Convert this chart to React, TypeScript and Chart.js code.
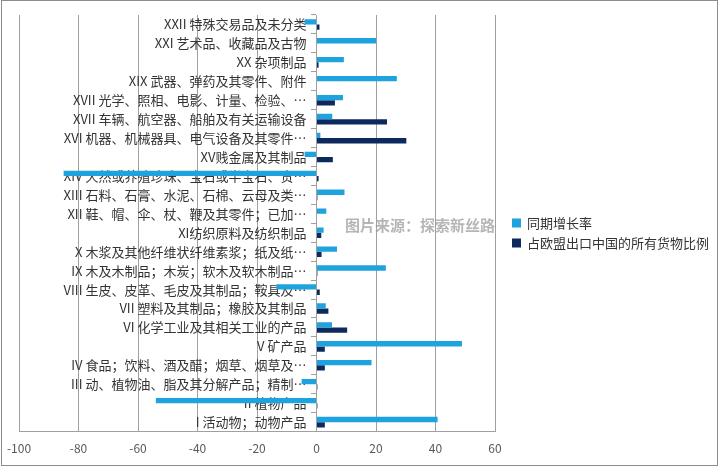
import React, { useEffect, useRef } from "react";
import { Chart, registerables } from "chart.js";

Chart.register(...registerables);

const categories: string[] = [
  "I 活动物；动物产品",
  "II 植物产品",
  "III 动、植物油、脂及其分解产品；精制…",
  "IV 食品；饮料、酒及醋；烟草、烟草及…",
  "V 矿产品",
  "VI 化学工业及其相关工业的产品",
  "VII 塑料及其制品；橡胶及其制品",
  "VIII 生皮、皮革、毛皮及其制品；鞍具及…",
  "IX 木及木制品；木炭；软木及软木制品…",
  "X 木浆及其他纤维状纤维素浆；纸及纸…",
  "XI纺织原料及纺织制品",
  "XII 鞋、帽、伞、杖、鞭及其零件；已加…",
  "XIII 石料、石膏、水泥、石棉、云母及类…",
  "XIV 天然或养殖珍珠、宝石或半宝石、贵…",
  "XV贱金属及其制品",
  "XVI 机器、机械器具、电气设备及其零件…",
  "XVII 车辆、航空器、船舶及有关运输设备",
  "XVII 光学、照相、电影、计量、检验、…",
  "XIX 武器、弹药及其零件、附件",
  "XX 杂项制品",
  "XXI 艺术品、收藏品及古物",
  "XXII 特殊交易品及未分类",
];

const growthRate: number[] = [
  40.7, -54, -5, 18.5, 48.9, 5.2, 3.1, -13.5, 23.3, 6.9, 2.4, 3.3, 9.4, -85,
  -4, 1.3, 5.3, 8.9, 27, 9.2, 20, -4,
];

const shareOfExports: number[] = [
  2.8, 0.3, 0.3, 2.8, 2.8, 10.3, 4.0, 1.1, 0.3, 1.7, 1.6, 0, 0.3, 0.7, 5.5,
  30.2, 23.7, 6.2, 0, 0.7, 0, 1,
];

const seriesNames: string[] = ["同期增长率", "占欧盟出口中国的所有货物比例"];
const seriesColors: string[] = ["#1FA3DE", "#0D2A5E"];
const xTicks: number[] = [-100, -80, -60, -40, -20, 0, 20, 40, 60];

const FONT = "'Noto Sans CJK SC', sans-serif";

const zeroPad = (scale: any) => {
  scale.paddingLeft = 0;
  scale.paddingRight = 0;
  scale.paddingTop = 0;
  scale.paddingBottom = 0;
};

const legendPlugin = {
  id: "sideLegend",
  afterDraw(chart: any) {
    const ctx = chart.ctx;
    ctx.save();
    ctx.font = `13px ${FONT}`;
    ctx.textBaseline = "middle";
    ctx.textAlign = "left";
    chart.data.datasets.forEach((ds: any, i: number) => {
      const cy = 223 + i * 20;
      ctx.fillStyle = ds.backgroundColor;
      ctx.fillRect(512, cy - 4.5, 9, 9);
      ctx.fillStyle = "#333";
      ctx.fillText(ds.label, 527, cy);
    });
    ctx.restore();
  },
};

export default function App() {
  const ref = useRef<HTMLCanvasElement | null>(null);

  useEffect(() => {
    if (!ref.current) return;
    const chart = new Chart(ref.current, {
      type: "bar",
      data: {
        labels: categories,
        datasets: [
          {
            label: seriesNames[0],
            data: growthRate,
            backgroundColor: seriesColors[0],
            categoryPercentage: 0.56,
            barPercentage: 1.0,
          },
          {
            label: seriesNames[1],
            data: shareOfExports,
            backgroundColor: seriesColors[1],
            categoryPercentage: 0.56,
            barPercentage: 1.0,
          },
        ],
      },
      options: {
        indexAxis: "y",
        animation: false,
        responsive: false,
        maintainAspectRatio: false,
        layout: { padding: { left: 19, top: 15, bottom: 1, right: 225 } },
        plugins: {
          tooltip: { enabled: false },
          legend: { display: false },
        },
        scales: {
          x: {
            type: "linear",
            min: -100,
            max: 60,
            afterBuildTicks: (scale: any) => {
              scale.ticks = xTicks.map((v) => ({ value: v }));
            },
            afterFit: zeroPad,
            ticks: {
              color: "#595959",
              padding: 10,
              font: { size: 12, family: FONT },
            },
            grid: { color: "#a0a0a0", drawTicks: false, lineWidth: 1 },
            border: { color: "#a0a0a0" },
          },
          y: {
            type: "category",
            reverse: true,
            position: { x: 0 } as any,
            offset: true,
            afterFit: zeroPad,
            grid: {
              offset: true,
              drawOnChartArea: false,
              drawTicks: true,
              tickLength: 5,
              color: "#a0a0a0",
            },
            border: { color: "#a0a0a0" },
            ticks: { display: false },
          },
          yLabels: {
            type: "category",
            axis: "y",
            reverse: true,
            position: { x: -3.4 } as any,
            offset: true,
            afterFit: zeroPad,
            grid: { display: false, drawTicks: false },
            border: { display: false },
            ticks: {
              autoSkip: false,
              padding: 0,
              color: "#333",
              font: { size: 13, family: FONT },
            },
          } as any,
        },
      },
      plugins: [legendPlugin],
    });
    return () => chart.destroy();
  }, []);

  return (
    <div
      style={{
        position: "fixed",
        left: 0,
        top: 0,
        width: 720,
        height: 467,
        background: "#fff",
      }}
    >
      <canvas
        ref={ref}
        width={720}
        height={467}
        style={{ position: "absolute", left: 0, top: 0, width: 720, height: 467 }}
      />
      <div
        style={{
          position: "absolute",
          left: 345,
          top: 214,
          fontFamily: FONT,
          fontSize: 15,
          fontWeight: 700,
          color: "rgba(150,150,150,0.7)",
          whiteSpace: "nowrap",
          pointerEvents: "none",
        }}
      >
        图片来源：探索新丝路
      </div>
      <div
        style={{
          position: "absolute",
          left: 1,
          top: 0,
          width: 717,
          height: 466,
          border: "1px solid #8c8c8c",
          boxSizing: "border-box",
          pointerEvents: "none",
        }}
      />
    </div>
  );
}
